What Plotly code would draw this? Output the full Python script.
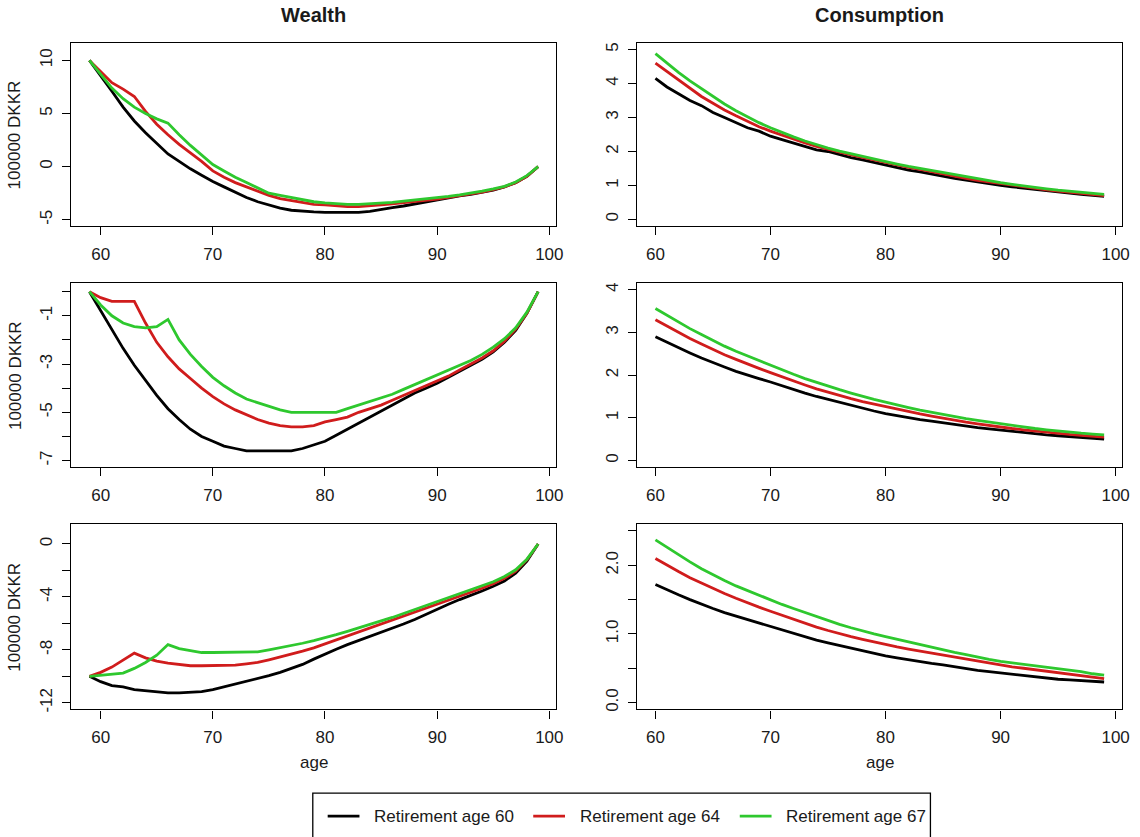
import plotly.graph_objects as go

# ---- data -------------------------------------------------------------
ages_w = list(range(59, 100))   # wealth path, age 59..99
ages_c = list(range(60, 100))   # consumption path, age 60..99

series_names = ["Retirement age 60", "Retirement age 64", "Retirement age 67"]
series_colors = ["#000000", "#d01c1c", "#2ec82e"]

# Scenario 1 (top row)
wealth1_60 = [10.0, 8.6, 7.1, 5.6, 4.3, 3.2, 2.2, 1.2, 0.5, -0.2, -0.8, -1.4, -1.9, -2.4, -2.9,
              -3.3, -3.6, -3.9, -4.1, -4.2, -4.25, -4.3, -4.3, -4.3, -4.3, -4.2, -4.0, -3.85,
              -3.7, -3.5, -3.3, -3.1, -2.9, -2.75, -2.6, -2.4, -2.2, -1.9, -1.5, -0.9, 0.0]
wealth1_64 = [10.0, 8.9, 7.9, 7.3, 6.6, 5.2, 4.0, 3.0, 2.1, 1.3, 0.5, -0.4, -1.0, -1.5, -1.9,
              -2.3, -2.7, -3.0, -3.2, -3.4, -3.55, -3.6, -3.7, -3.75, -3.75, -3.7, -3.6, -3.5,
              -3.4, -3.3, -3.2, -3.05, -2.9, -2.75, -2.6, -2.4, -2.15, -1.9, -1.5, -0.9, 0.0]
wealth1_67 = [10.0, 8.7, 7.4, 6.4, 5.6, 5.0, 4.5, 4.1, 3.0, 2.0, 1.1, 0.2, -0.4, -1.0, -1.5,
              -2.0, -2.5, -2.7, -2.9, -3.1, -3.3, -3.4, -3.5, -3.55, -3.55, -3.5, -3.45, -3.35,
              -3.25, -3.15, -3.05, -2.95, -2.8, -2.65, -2.5, -2.3, -2.1, -1.85, -1.45, -0.85, 0.0]
cons1_60 = [4.15, 3.9, 3.7, 3.5, 3.35, 3.15, 3.0, 2.85, 2.7, 2.6, 2.45, 2.35, 2.25, 2.15, 2.05,
            2.0, 1.9, 1.82, 1.75, 1.67, 1.6, 1.52, 1.45, 1.4, 1.33, 1.27, 1.21, 1.16, 1.1, 1.05,
            1.0, 0.96, 0.92, 0.88, 0.84, 0.81, 0.78, 0.74, 0.71, 0.68]
cons1_64 = [4.6, 4.35, 4.1, 3.85, 3.62, 3.42, 3.22, 3.05, 2.88, 2.73, 2.6, 2.48, 2.36, 2.25, 2.15,
            2.06, 1.98, 1.9, 1.83, 1.75, 1.68, 1.6, 1.53, 1.47, 1.4, 1.33, 1.27, 1.21, 1.15, 1.1,
            1.05, 1.0, 0.95, 0.91, 0.87, 0.83, 0.8, 0.76, 0.73, 0.7]
cons1_67 = [4.88, 4.6, 4.33, 4.08, 3.85, 3.62, 3.4, 3.2, 3.02, 2.85, 2.7, 2.56, 2.43, 2.31, 2.2,
            2.1, 2.01, 1.93, 1.86, 1.78, 1.71, 1.63, 1.56, 1.5, 1.43, 1.36, 1.3, 1.24, 1.18, 1.13,
            1.08, 1.03, 0.98, 0.94, 0.9, 0.86, 0.83, 0.8, 0.77, 0.74]

# Scenario 2 (middle row)
wealth2_60 = [0.0, -0.8, -1.6, -2.35, -3.05, -3.7, -4.3, -4.85, -5.3, -5.7, -6.0, -6.2, -6.4,
              -6.5, -6.6, -6.6, -6.6, -6.6, -6.6, -6.5, -6.35, -6.2, -5.95, -5.7, -5.45, -5.2,
              -4.95, -4.7, -4.45, -4.2, -4.0, -3.8, -3.55, -3.3, -3.05, -2.8, -2.5, -2.1, -1.6,
              -0.9, 0.0]
wealth2_64 = [0.0, -0.25, -0.4, -0.4, -0.4, -1.3, -2.1, -2.7, -3.2, -3.6, -4.0, -4.35, -4.65,
              -4.9, -5.1, -5.3, -5.45, -5.55, -5.6, -5.6, -5.55, -5.4, -5.3, -5.2, -5.0, -4.85,
              -4.7, -4.5, -4.3, -4.1, -3.9, -3.7, -3.5, -3.25, -3.0, -2.75, -2.45, -2.05, -1.55,
              -0.9, 0.0]
wealth2_67 = [0.0, -0.55, -1.0, -1.3, -1.45, -1.5, -1.45, -1.15, -2.0, -2.6, -3.1, -3.55, -3.9,
              -4.2, -4.45, -4.6, -4.75, -4.9, -5.0, -5.0, -5.0, -5.0, -5.0, -4.85, -4.7, -4.55,
              -4.4, -4.25, -4.05, -3.85, -3.65, -3.45, -3.25, -3.05, -2.85, -2.6, -2.3, -1.95,
              -1.5, -0.85, 0.0]
cons2_60 = [2.9, 2.77, 2.64, 2.52, 2.4, 2.29, 2.19, 2.09, 2.0, 1.92, 1.84, 1.75, 1.66, 1.58, 1.5,
            1.43, 1.36, 1.29, 1.22, 1.16, 1.1, 1.05, 1.0, 0.96, 0.92, 0.88, 0.84, 0.8, 0.77, 0.74,
            0.71, 0.68, 0.65, 0.62, 0.6, 0.58, 0.56, 0.54, 0.52, 0.5]
cons2_64 = [3.3, 3.15, 3.0, 2.86, 2.73, 2.6, 2.48, 2.37, 2.26, 2.16, 2.06, 1.96, 1.86, 1.77, 1.68,
            1.6, 1.52, 1.45, 1.38, 1.32, 1.26, 1.2, 1.14, 1.09, 1.04, 0.99, 0.94, 0.9, 0.86, 0.82,
            0.78, 0.75, 0.72, 0.69, 0.66, 0.63, 0.61, 0.59, 0.57, 0.55]
cons2_67 = [3.56, 3.4, 3.24, 3.09, 2.95, 2.81, 2.68, 2.56, 2.45, 2.34, 2.23, 2.12, 2.02, 1.92,
            1.83, 1.74, 1.66, 1.58, 1.5, 1.43, 1.37, 1.3, 1.24, 1.18, 1.13, 1.07, 1.02, 0.98, 0.94,
            0.9, 0.86, 0.82, 0.78, 0.75, 0.72, 0.69, 0.66, 0.64, 0.62, 0.6]

# Scenario 3 (bottom row)
wealth3_60 = [-10.0, -10.4, -10.7, -10.8, -11.0, -11.1, -11.2, -11.25, -11.25, -11.2, -11.15,
              -11.0, -10.8, -10.6, -10.4, -10.2, -9.95, -9.7, -9.4, -9.1, -8.7, -8.3, -7.95,
              -7.6, -7.3, -7.0, -6.7, -6.4, -6.05, -5.7, -5.3, -4.9, -4.55, -4.2, -3.9, -3.55,
              -3.2, -2.8, -2.2, -1.3, 0.0]
wealth3_64 = [-10.0, -9.7, -9.3, -8.8, -8.25, -8.6, -8.85, -9.0, -9.1, -9.2, -9.2, -9.2, -9.2,
              -9.15, -9.05, -8.95, -8.75, -8.55, -8.3, -8.1, -7.85, -7.55, -7.3, -7.0, -6.7,
              -6.4, -6.1, -5.8, -5.5, -5.2, -4.85, -4.55, -4.25, -3.95, -3.65, -3.35, -3.0,
              -2.6, -2.05, -1.2, 0.0]
wealth3_67 = [-10.0, -9.9, -9.8, -9.75, -9.4, -8.95, -8.4, -7.6, -7.9, -8.05, -8.2, -8.2, -8.2,
              -8.2, -8.2, -8.15, -8.0, -7.85, -7.7, -7.5, -7.3, -7.1, -6.85, -6.6, -6.35, -6.1,
              -5.85, -5.55, -5.25, -4.95, -4.65, -4.35, -4.05, -3.75, -3.45, -3.15, -2.85,
              -2.45, -1.95, -1.15, 0.0]
cons3_60 = [1.72, 1.64, 1.57, 1.5, 1.43, 1.37, 1.31, 1.26, 1.2, 1.15, 1.1, 1.05, 1.0, 0.95, 0.91,
            0.87, 0.83, 0.79, 0.75, 0.71, 0.68, 0.65, 0.62, 0.6, 0.57, 0.55, 0.52, 0.5, 0.47, 0.45,
            0.43, 0.41, 0.39, 0.37, 0.36, 0.34, 0.33, 0.32, 0.31, 0.3]
cons3_64 = [2.1, 2.0, 1.91, 1.82, 1.74, 1.66, 1.59, 1.52, 1.45, 1.39, 1.33, 1.27, 1.21, 1.15, 1.1,
            1.05, 1.0, 0.96, 0.92, 0.88, 0.85, 0.81, 0.78, 0.75, 0.72, 0.69, 0.66, 0.63, 0.6, 0.57,
            0.55, 0.52, 0.5, 0.48, 0.46, 0.44, 0.42, 0.4, 0.37, 0.35]
cons3_67 = [2.37, 2.26, 2.15, 2.05, 1.95, 1.86, 1.78, 1.7, 1.63, 1.56, 1.5, 1.43, 1.37, 1.31, 1.25,
            1.19, 1.14, 1.09, 1.04, 1.0, 0.96, 0.92, 0.88, 0.84, 0.8, 0.76, 0.73, 0.7, 0.66, 0.63,
            0.6, 0.58, 0.56, 0.53, 0.51, 0.49, 0.47, 0.45, 0.42, 0.4]

x_ticks = [60, 70, 80, 90, 100]

wealth_rows = [[wealth1_60, wealth1_64, wealth1_67],
               [wealth2_60, wealth2_64, wealth2_67],
               [wealth3_60, wealth3_64, wealth3_67]]
cons_rows = [[cons1_60, cons1_64, cons1_67],
             [cons2_60, cons2_64, cons2_67],
             [cons3_60, cons3_64, cons3_67]]

# y axis ticks per panel (value, label); blank labels are ticks without text
wealth_ticks = [
    ([10, 5, 0, -5], ["10", "5", "0", "-5"]),
    ([0, -1, -2, -3, -4, -5, -6, -7], ["", "-1", "", "-3", "", "-5", "", "-7"]),
    ([0, -2, -4, -6, -8, -10, -12], ["0", "", "-4", "", "-8", "", "-12"]),
]
cons_ticks = [
    ([0, 1, 2, 3, 4, 5], ["0", "1", "2", "3", "4", "5"]),
    ([0, 1, 2, 3, 4], ["0", "1", "2", "3", "4"]),
    ([0, 0.5, 1.0, 1.5, 2.0, 2.5], ["0.0", "", "1.0", "", "2.0", ""]),
]
wealth_ranges = [[-5.6, 11.65], [-7.28, 0.36], [-12.5, 1.5]]
cons_ranges = [[-0.2, 5.2], [-0.16, 4.16], [-0.1, 2.6]]

# ---- layout geometry (pixels) -----------------------------------------
W, H = 1140, 837
col_px = [(72, 560), (642, 1130)]
row_px = [(43, 227), (284, 469), (526, 712)]

FONT = "Liberation Sans, Arial, sans-serif"
TXT = "#1a1a1a"


def px_x(v):
    return v / W


def px_y(v):
    return 1 - v / H


fig = go.Figure()
layout = dict(
    width=W, height=H,
    margin=dict(l=0, r=0, t=0, b=0),
    paper_bgcolor="white", plot_bgcolor="white",
    showlegend=False,
    font=dict(family=FONT, size=17, color=TXT),
)

axis_common = dict(
    showline=True, linecolor="black", linewidth=1.3, mirror=True,
    ticks="outside", ticklen=8, tickwidth=1.3, tickcolor="black",
    showgrid=False, zeroline=False,
    tickfont=dict(family=FONT, size=17, color=TXT),
)

n = 0
for r in range(3):
    for c in range(2):
        n += 1
        xa = "xaxis" if n == 1 else f"xaxis{n}"
        ya = "yaxis" if n == 1 else f"yaxis{n}"
        xref = "x" if n == 1 else f"x{n}"
        yref = "y" if n == 1 else f"y{n}"
        x0, x1 = col_px[c]
        y0, y1 = row_px[r]
        if c == 0:
            xs, rows, tv, rng = ages_w, wealth_rows[r], wealth_ticks[r], wealth_ranges[r]
            xr = [57.4, 100.6]
        else:
            xs, rows, tv, rng = ages_c, cons_rows[r], cons_ticks[r], cons_ranges[r]
            xr = [58.44, 100.56]
        for ys, name, col in zip(rows, series_names, series_colors):
            fig.add_trace(go.Scatter(x=xs, y=ys, mode="lines", name=name,
                                     line=dict(color=col, width=2.8),
                                     xaxis=xref, yaxis=yref))
        layout[xa] = dict(axis_common, domain=[px_x(x0), px_x(x1)], range=xr,
                          tickvals=x_ticks, ticklabelstandoff=4, anchor=yref)
        layout[ya] = dict(axis_common, domain=[px_y(y1), px_y(y0)], range=rng,
                          tickvals=tv[0], ticktext=tv[1], tickangle=-90,
                          ticklabelstandoff=4, anchor=xref)

annotations = []
# column titles
for title, (x0, x1) in zip(["Wealth", "Consumption"], col_px):
    annotations.append(dict(text="<b>" + title + "</b>", xref="paper", yref="paper",
                            x=px_x((x0 + x1) / 2), y=px_y(15), xanchor="center",
                            yanchor="middle", showarrow=False,
                            font=dict(family=FONT, size=20, color=TXT)))
# y axis titles for wealth panels
for (y0, y1) in row_px:
    annotations.append(dict(text="100000 DKKR", xref="paper", yref="paper",
                            x=px_x(15), y=px_y((y0 + y1) / 2), xanchor="center",
                            yanchor="middle", textangle=-90, showarrow=False,
                            font=dict(family=FONT, size=17, color=TXT)))
# x axis titles under bottom row
for (x0, x1) in col_px:
    annotations.append(dict(text="age", xref="paper", yref="paper",
                            x=px_x((x0 + x1) / 2), y=px_y(765), xanchor="center",
                            yanchor="middle", showarrow=False,
                            font=dict(family=FONT, size=17, color=TXT)))

# legend box at the bottom
shapes = [dict(type="rect", xref="paper", yref="paper",
               x0=px_x(315), x1=px_x(937), y0=px_y(860), y1=px_y(796),
               line=dict(color="black", width=1.3), fillcolor="white", layer="above")]
leg_line_x = [330, 537, 745]
for lx, name, col in zip(leg_line_x, series_names, series_colors):
    shapes.append(dict(type="line", xref="paper", yref="paper",
                       x0=px_x(lx), x1=px_x(lx + 32), y0=px_y(819), y1=px_y(819),
                       line=dict(color=col, width=2.8), layer="above"))
    annotations.append(dict(text=name, xref="paper", yref="paper",
                            x=px_x(lx + 45), y=px_y(819), xanchor="left",
                            yanchor="middle", showarrow=False,
                            font=dict(family=FONT, size=17, color=TXT)))

layout["annotations"] = annotations
layout["shapes"] = shapes
fig.update_layout(**layout)

fig.write_html("out.html")
